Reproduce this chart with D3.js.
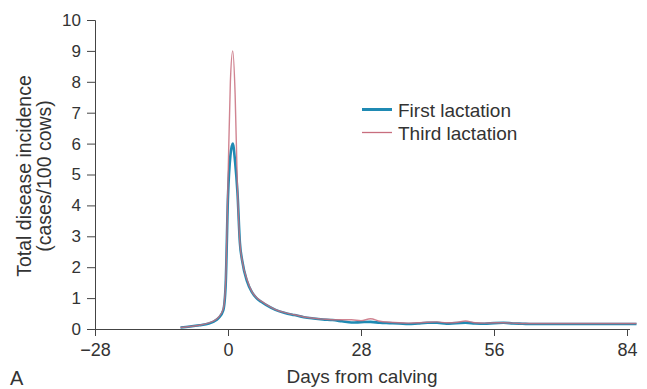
<!DOCTYPE html>
<html>
<head>
<meta charset="utf-8">
<script src="https://cdn.jsdelivr.net/npm/d3@7"></script>
<style>
html,body{margin:0;padding:0;background:#fff;}
svg{display:block;font-family:"Liberation Sans",Arial,Helvetica,sans-serif;}
</style>
</head>
<body>
<svg id="chart" width="647" height="389"></svg>
<script>
const days = [-10,-8,-6,-4,-3,-2,-1,-0.5,0,0.5,1,1.5,2,2.5,3,4,5,6,7,8,10,12,14,16,18,20,22,24,26,28,30,32,34,36,38,40,42,44,46,48,50,52,54,56,58,60,62,64,66,68,70,72,74,76,78,80,82,84,86];
const firstLactation = [0.05,0.08,0.12,0.18,0.24,0.35,0.6,1.4,4.3,5.6,6.0,5.4,4.4,2.8,2.2,1.55,1.2,1.0,0.88,0.78,0.62,0.52,0.45,0.38,0.34,0.31,0.29,0.25,0.21,0.22,0.23,0.2,0.19,0.18,0.16,0.18,0.2,0.2,0.17,0.19,0.2,0.18,0.17,0.19,0.2,0.18,0.17,0.16,0.16,0.16,0.16,0.16,0.16,0.16,0.16,0.16,0.16,0.16,0.16];
const thirdLactation = [0.05,0.08,0.12,0.2,0.26,0.38,0.65,1.5,4.8,8.0,9.0,7.6,4.5,2.8,2.2,1.6,1.22,1.02,0.9,0.8,0.63,0.53,0.46,0.39,0.35,0.32,0.3,0.3,0.3,0.27,0.33,0.25,0.22,0.2,0.19,0.2,0.22,0.23,0.2,0.21,0.26,0.2,0.19,0.2,0.2,0.19,0.18,0.18,0.18,0.18,0.18,0.18,0.18,0.18,0.18,0.18,0.18,0.18,0.18];
const xTicks = [-28,0,28,56,84];
const yTicks = [0,1,2,3,4,5,6,7,8,9,10];
const seriesNames = ["First lactation","Third lactation"];
const colors = ["#1f8ab3","#c86e7e"];

const svg = d3.select("#chart");
const x = d3.scaleLinear().domain([-28,84]).range([95,627]);
const y = d3.scaleLinear().domain([0,10]).range([329,20]);
const textCol = "#333";
const axisCol = "#444";

// axes
const gx = svg.append("g").attr("transform","translate(0,329)")
  .call(d3.axisBottom(x).tickValues(xTicks).tickSize(7).tickPadding(7).tickFormat(d=>d<0?"\u2212"+Math.abs(d):d));
gx.select(".domain").attr("d","M95,0.5H630").attr("stroke",axisCol);
gx.selectAll(".tick line").attr("stroke",axisCol);
gx.selectAll("text").attr("fill",textCol).style("font-size","18px");

const gy = svg.append("g").attr("transform","translate(95,0)")
  .call(d3.axisLeft(y).tickValues(yTicks).tickSize(8).tickPadding(6));
gy.select(".domain").attr("stroke",axisCol);
gy.selectAll(".tick line").attr("stroke",axisCol);
gy.selectAll("text").attr("fill",textCol).style("font-size","17px");

// lines
const line = vals => d3.line().x((d,i)=>x(days[i])).y(d=>y(d)).curve(d3.curveMonotoneX)(vals);
svg.append("path").attr("d",line(firstLactation)).attr("fill","none").attr("stroke",colors[0]).attr("stroke-width",2.6).attr("stroke-linejoin","round");
svg.append("path").attr("d",line(thirdLactation)).attr("fill","none").attr("stroke",colors[1]).attr("stroke-width",1.4).attr("stroke-opacity",0.85).attr("stroke-linejoin","round");

// legend
const lg = svg.append("g");
seriesNames.forEach((n,i)=>{
  const yy = 109.5 + i*23;
  lg.append("line").attr("x1",362).attr("x2",392).attr("y1",yy).attr("y2",yy)
    .attr("stroke",colors[i]).attr("stroke-width",i===0?3:1.3);
  lg.append("text").attr("x",398).attr("y",yy+7.5).attr("fill",textCol).style("font-size","19px").text(n);
});

// axis titles
svg.append("text").attr("x",362).attr("y",383).attr("text-anchor","middle").attr("fill",textCol).style("font-size","19px").text("Days from calving");
const yt = svg.append("text").attr("transform","translate(0,176) rotate(-90)").attr("text-anchor","middle").attr("fill",textCol).style("font-size","19.5px");
yt.append("tspan").attr("x",0).attr("y",31).text("Total disease incidence");
yt.append("tspan").attr("x",0).attr("y",51).text("(cases/100 cows)");
svg.append("text").attr("x",10).attr("y",385).attr("fill",textCol).style("font-size","20px").text("A");
</script>
</body>
</html>
